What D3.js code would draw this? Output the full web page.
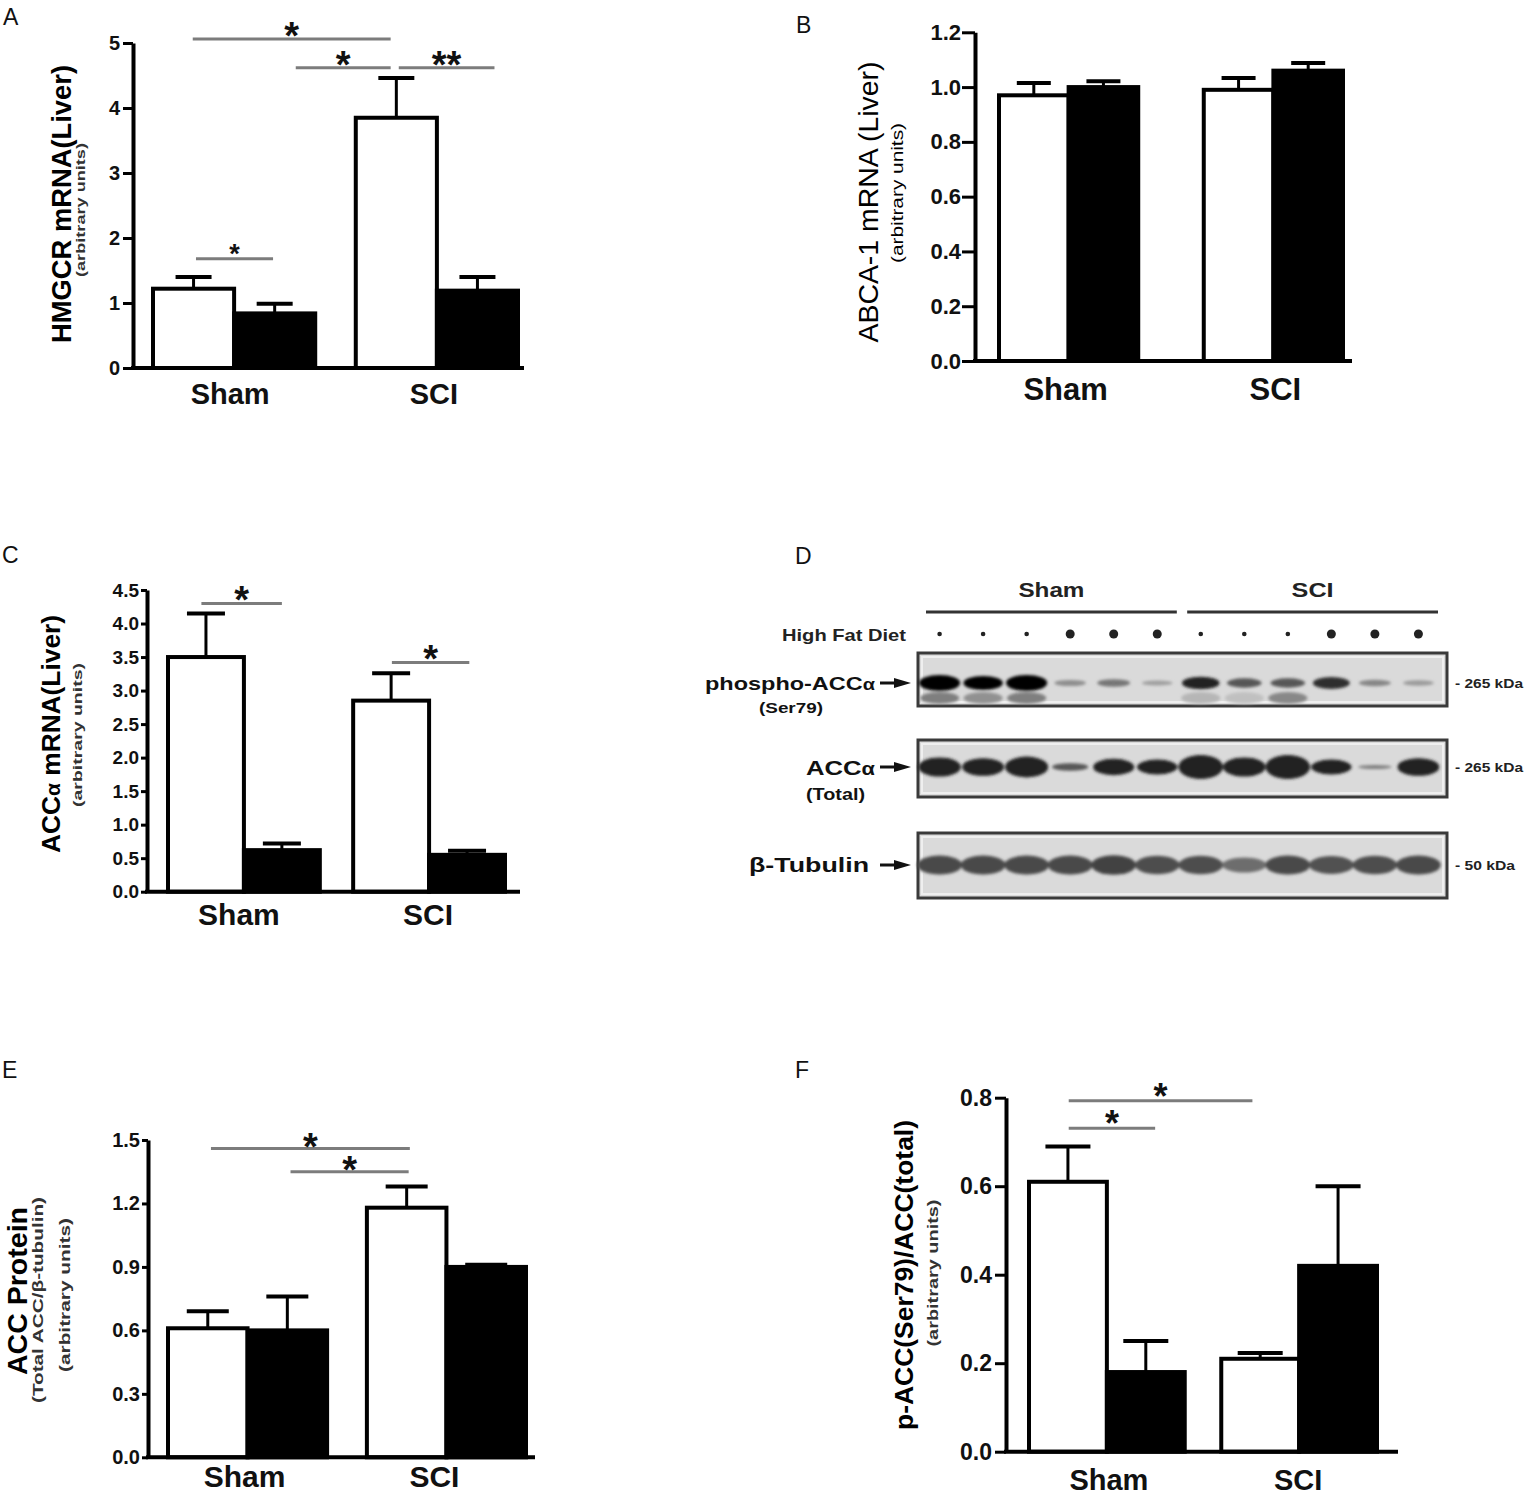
<!DOCTYPE html>
<html>
<head>
<meta charset="utf-8">
<script src="https://cdnjs.cloudflare.com/ajax/libs/d3/7.8.5/d3.min.js"></script>
<style>
  body { margin: 0; background: #fff; }
  svg { display: block; }
  text { font-family: "Liberation Sans", Arial, sans-serif; }
</style>
</head>
<body>
<svg id="fig" width="1536" height="1509"></svg>
<script>
// ---- data (bar order: Sham/chow, Sham/HFD, SCI/chow, SCI/HFD) ----
var groups = ["Sham", "SCI"];
var diets = ["Chow", "HFD"];

// A - HMGCR mRNA
var hmgcrMean = [1.22, 0.84, 3.85, 1.19];
var hmgcrSem = [0.18, 0.15, 0.61, 0.21];
var hmgcrTicks = [0, 1, 2, 3, 4, 5];
// [bar, frac, bar, frac, value, label]
var hmgcrSig = [[0, 0.49, 2, 0.43, 5.06, "*"], [1, 0.76, 2, 0.43, 4.62, "*"],
                [2, 0.53, 3, 0.71, 4.62, "**"], [0, 0.53, 1, 0.48, 1.68, "*"]];

// B - ABCA-1 mRNA
var abcaMean = [0.97, 1.00, 0.99, 1.06];
var abcaSem = [0.045, 0.021, 0.043, 0.028];
var abcaTicks = [0, 0.2, 0.4, 0.6, 0.8, 1.0, 1.2];
var abcaSig = [];

// C - ACCalpha mRNA
var accMrnaMean = [3.50, 0.62, 2.85, 0.55];
var accMrnaSem = [0.65, 0.10, 0.41, 0.06];
var accMrnaTicks = [0, 0.5, 1.0, 1.5, 2.0, 2.5, 3.0, 3.5, 4.0, 4.5];
var accMrnaSig = [[0, 0.44, 1, 0.50, 4.30, "*"], [2, 0.51, 3, 0.53, 3.42, "*"]];

// E - ACC protein
var accProtMean = [0.61, 0.60, 1.18, 0.90];
var accProtSem = [0.08, 0.16, 0.10, 0.01];
var accProtTicks = [0, 0.3, 0.6, 0.9, 1.2, 1.5];
var accProtSig = [[0, 0.54, 2, 0.54, 1.46, "*"], [1, 0.54, 2, 0.525, 1.35, "*"]];

// F - pACC / ACC
var ratioMean = [0.61, 0.18, 0.21, 0.42];
var ratioSem = [0.08, 0.07, 0.013, 0.18];
var ratioTicks = [0, 0.2, 0.4, 0.6, 0.8];
var ratioSig = [[0, 0.51, 2, 0.40, 0.793, "*"], [0, 0.51, 1, 0.62, 0.731, "*"]];

// D - western blot, 12 lanes
var laneHfd = [0, 0, 0, 1, 1, 1, 0, 0, 0, 1, 1, 1];
var pAccBand = [1.0, 0.85, 1.0, 0.18, 0.3, 0.1, 0.7, 0.45, 0.45, 0.65, 0.22, 0.12];
var pAccSmear = [0.45, 0.35, 0.45, 0, 0, 0, 0.15, 0.1, 0.4, 0, 0, 0];
var accBand = [0.85, 0.8, 0.9, 0.4, 0.75, 0.7, 1.0, 0.85, 1.0, 0.7, 0.2, 0.8];
var tubBand = [0.75, 0.75, 0.75, 0.75, 0.78, 0.72, 0.72, 0.55, 0.75, 0.7, 0.72, 0.75];

var svg = d3.select("#fig");

svg.append("defs").append("filter").attr("id", "blur")
    .attr("x", "-20%").attr("y", "-50%").attr("width", "140%").attr("height", "200%")
    .append("feGaussianBlur").attr("stdDeviation", 1.6);

function panelLetter(t, x, y) {
    svg.append("text").attr("x", x).attr("y", y)
        .attr("font-family", "'Open Sans', sans-serif")
        .attr("font-size", 23).attr("fill", "#111").text(t);
}

function vLabel(g, o) {
    var t = g.append("text")
        .attr("transform", "translate(" + o.x + "," + o.y + ") rotate(-90)")
        .attr("text-anchor", "middle")
        .attr("dy", "0.35em")
        .attr("font-size", o.fs)
        .attr("font-weight", o.w || "bold")
        .attr("fill", o.fill || "#000")
        .attr("textLength", o.len)
        .attr("lengthAdjust", "spacingAndGlyphs");
    if (o.parts) {
        o.parts.forEach(function(p) {
            t.append("tspan").attr("font-size", p[1] + "em").text(p[0]);
        });
    } else {
        t.text(o.t);
    }
}

function barPanel(p) {
    var g = svg.append("g");
    var y = d3.scaleLinear().domain([0, p.max]).range([p.y0, p.yTop]);
    var xg = d3.scaleBand().domain(groups).range([p.barL, p.barR]).paddingInner(p.gap);
    var xd = d3.scaleBand().domain(diets).range([0, xg.bandwidth()]);
    var w = xd.bandwidth();

    var bars = p.mean.map(function(v, i) {
        return {g: groups[Math.floor(i / 2)], d: diets[i % 2], v: v, e: p.sem[i]};
    });
    function bx(b) { return xg(b.g) + xd(b.d); }

    // significance brackets
    p.sig.forEach(function(s, i) {
        var x1 = bx(bars[s[0]]) + s[1] * w;
        var x2 = bx(bars[s[2]]) + s[3] * w;
        var yy = y(s[4]);
        g.append("line").attr("x1", x1).attr("x2", x2).attr("y1", yy).attr("y2", yy)
            .attr("stroke", "#7c7c7c").attr("stroke-width", 3);
        var fs = p.starFs[i];
        g.append("text").attr("x", (x1 + x2) / 2).attr("y", yy - p.starGap + 0.555 * fs)
            .attr("text-anchor", "middle").attr("font-weight", "bold")
            .attr("font-size", fs).attr("fill", "#111").text(s[5]);
    });

    // error bars (upper only)
    var eb = g.selectAll(".err").data(bars).enter().append("g").attr("class", "err");
    eb.append("line")
        .attr("x1", function(d) { return bx(d) + w / 2; })
        .attr("x2", function(d) { return bx(d) + w / 2; })
        .attr("y1", function(d) { return y(d.v); })
        .attr("y2", function(d) { return y(d.v + d.e); })
        .attr("stroke", "#000").attr("stroke-width", 3);
    eb.append("line")
        .attr("x1", function(d) { return bx(d) + w / 2 - p.cap / 2; })
        .attr("x2", function(d) { return bx(d) + w / 2 + p.cap / 2; })
        .attr("y1", function(d) { return y(d.v + d.e); })
        .attr("y2", function(d) { return y(d.v + d.e); })
        .attr("stroke", "#000").attr("stroke-width", 4);

    // bars
    g.selectAll(".bar").data(bars).enter().append("rect")
        .attr("class", "bar")
        .attr("x", bx)
        .attr("y", function(d) { return y(d.v); })
        .attr("width", w)
        .attr("height", function(d) { return y(0) - y(d.v); })
        .attr("fill", function(d) { return d.d === "HFD" ? "#000" : "#fff"; })
        .attr("stroke", "#000").attr("stroke-width", 4);

    // axes
    var ya = g.append("g").attr("transform", "translate(" + p.axisX + ",0)")
        .call(d3.axisLeft(y).tickValues(p.ticks).tickFormat(d3.format(p.fmt))
            .tickSize(p.ts).tickPadding(p.tp).tickSizeOuter(0));
    ya.select(".domain").attr("stroke", "#000").attr("stroke-width", 4);
    ya.selectAll(".tick line").attr("stroke", "#000").attr("stroke-width", 3);
    ya.selectAll(".tick text").attr("font-size", p.tfs).attr("font-weight", "bold")
        .attr("fill", "#111").attr("font-family", "'Liberation Sans', Arial, sans-serif");

    g.append("line").attr("x1", p.axisX - 2).attr("x2", p.xEnd)
        .attr("y1", y(0)).attr("y2", y(0))
        .attr("stroke", "#000").attr("stroke-width", 4);

    var xa = g.append("g").attr("transform", "translate(0," + y(0) + ")")
        .call(d3.axisBottom(xg).tickSize(0).tickPadding(p.lBase - p.y0 - 0.71 * p.lfs));
    xa.select(".domain").remove();
    xa.selectAll(".tick text")
        .attr("dx", function(d, i) { return p.lShift[i]; })
        .attr("font-size", p.lfs).attr("font-weight", "bold")
        .attr("fill", "#111").attr("font-family", "'Liberation Sans', Arial, sans-serif");

    vLabel(g, p.label);
    p.subs.forEach(function(s) { vLabel(g, s); });
}

// ---- A ----
panelLetter("A", 3, 25);
barPanel({
    mean: hmgcrMean, sem: hmgcrSem, ticks: hmgcrTicks, sig: hmgcrSig, max: 5, fmt: "d",
    axisX: 133, y0: 368, yTop: 43, barL: 153, barR: 518, gap: 0.2, xEnd: 524,
    ts: 10, tp: 3, tfs: 20, cap: 36, lfs: 29, lBase: 404, lShift: [-4, -3],
    starFs: [38, 38, 38, 27], starGap: 11,
    label: {t: "HMGCR mRNA(Liver)", x: 62, y: 204, fs: 27, len: 278},
    subs: [{t: "(arbitrary units)", x: 80, y: 210, fs: 13, len: 134, fill: "#333"}]
});

// ---- B ----
panelLetter("B", 796, 33);
barPanel({
    mean: abcaMean, sem: abcaSem, ticks: abcaTicks, sig: abcaSig, max: 1.2, fmt: ".1f",
    axisX: 975, y0: 361, yTop: 32.3, barL: 999, barR: 1343, gap: 0.32, xEnd: 1352,
    ts: 13, tp: 1, tfs: 22, cap: 34, lfs: 31, lBase: 400, lShift: [-3, 2],
    starFs: [], starGap: 11,
    label: {t: "ABCA-1 mRNA (Liver)", x: 868, y: 202, fs: 28, w: "normal", len: 281},
    subs: [{t: "(arbitrary units)", x: 897, y: 193, fs: 17, w: "normal", len: 140}]
});

// ---- C ----
panelLetter("C", 2, 563);
barPanel({
    mean: accMrnaMean, sem: accMrnaSem, ticks: accMrnaTicks, sig: accMrnaSig, max: 4.5, fmt: ".1f",
    axisX: 147, y0: 891.7, yTop: 590, barL: 168, barR: 505, gap: 0.18, xEnd: 520,
    ts: 6, tp: 2, tfs: 19, cap: 38, lfs: 30, lBase: 925, lShift: [-5, -1],
    starFs: [38, 38], starGap: 11,
    label: {parts: [["ACC", 1], ["α", 0.8], [" mRNA(Liver)", 1]], x: 51, y: 734, fs: 25, len: 238},
    subs: [{t: "(arbitrary units)", x: 77, y: 735, fs: 13, len: 144, fill: "#333"}]
});

// ---- E ----
panelLetter("E", 2, 1078);
barPanel({
    mean: accProtMean, sem: accProtSem, ticks: accProtTicks, sig: accProtSig, max: 1.5, fmt: ".1f",
    axisX: 148, y0: 1457.3, yTop: 1140, barL: 168, barR: 526, gap: 0.2, xEnd: 535,
    ts: 6, tp: 2, tfs: 20, cap: 42, lfs: 30, lBase: 1487, lShift: [-3, -12],
    starFs: [38, 38], starGap: 10,
    label: {t: "ACC Protein", x: 18, y: 1291, fs: 27, len: 168},
    subs: [{t: "(Total ACC/β-tubulin)", x: 38, y: 1300, fs: 14, len: 206, fill: "#333"},
           {t: "(arbitrary units)", x: 65, y: 1295, fs: 15, len: 154, fill: "#333"}]
});

// ---- F ----
panelLetter("F", 795, 1078);
barPanel({
    mean: ratioMean, sem: ratioSem, ticks: ratioTicks, sig: ratioSig, max: 0.8, fmt: ".1f",
    axisX: 1006, y0: 1451.7, yTop: 1097.7, barL: 1029, barR: 1377, gap: 0.19, xEnd: 1398,
    ts: 11, tp: 3, tfs: 23, cap: 45, lfs: 29, lBase: 1490, lShift: [2, -1],
    starFs: [36, 36], starGap: 12,
    label: {t: "p-ACC(Ser79)/ACC(total)", x: 904, y: 1275, fs: 26, len: 310},
    subs: [{t: "(arbitrary units)", x: 933, y: 1273, fs: 15, len: 147, fill: "#333"}]
});

// ---- D (blot) ----
panelLetter("D", 795, 564);
(function() {
    var g = svg.append("g");
    var lane = d3.scaleBand().domain(d3.range(laneHfd.length)).range([920, 1438]).paddingInner(0.1);
    var bw = lane.bandwidth();
    var shade = d3.scaleLinear().domain([0, 1]).range(["#d2d2d2", "#050505"]);
    function cx(i) { return lane(i) + bw / 2; }

    // group headers
    groups.forEach(function(name, k) {
        var a = lane(k * 6) + 6, b = lane(k * 6 + 5) + bw;
        g.append("line").attr("x1", a).attr("x2", b).attr("y1", 612).attr("y2", 612)
            .attr("stroke", "#333").attr("stroke-width", 3);
        g.append("text").attr("x", (a + b) / 2).attr("y", 597).attr("text-anchor", "middle")
            .attr("font-size", 21).attr("font-weight", "bold").attr("fill", "#222")
            .attr("textLength", name === "Sham" ? 66 : 42).attr("lengthAdjust", "spacingAndGlyphs")
            .text(name);
    });

    g.append("text").attr("x", 906).attr("y", 641).attr("text-anchor", "end")
        .attr("font-size", 17).attr("font-weight", "bold").attr("fill", "#222")
        .attr("textLength", 124).attr("lengthAdjust", "spacingAndGlyphs").text("High Fat Diet");

    g.selectAll(".hfd").data(laneHfd).enter().append("circle")
        .attr("cx", function(d, i) { return cx(i); }).attr("cy", 634)
        .attr("r", function(d) { return d ? 4.5 : 2.3; }).attr("fill", "#222");

    var rows = [
        {y0: 653, y1: 706, cy: 683, kda: "- 265 kDa", kl: 68},
        {y0: 740, y1: 797, cy: 767, kda: "- 265 kDa", kl: 68},
        {y0: 833, y1: 898, cy: 865, kda: "- 50 kDa", kl: 60}
    ];
    rows.forEach(function(r) {
        g.append("rect").attr("x", 918).attr("y", r.y0).attr("width", 529).attr("height", r.y1 - r.y0)
            .attr("fill", "#dadada").attr("stroke", "#3a3a3a").attr("stroke-width", 3);
        g.append("rect").attr("x", 922).attr("y", r.y0 + 4).attr("width", 521).attr("height", r.y1 - r.y0 - 8)
            .attr("fill", "none").attr("stroke", "#efefef").attr("stroke-width", 2);
        g.append("path")
            .attr("d", "M880," + r.cy + "H897")
            .attr("stroke", "#111").attr("stroke-width", 3);
        g.append("path")
            .attr("d", "M894," + (r.cy - 5) + "L911," + r.cy + "L894," + (r.cy + 5) + "Z")
            .attr("fill", "#111");
        g.append("text").attr("x", 1455).attr("y", r.cy + 5)
            .attr("font-size", 13).attr("font-weight", "bold").attr("fill", "#222")
            .attr("textLength", r.kl).attr("lengthAdjust", "spacingAndGlyphs").text(r.kda);
    });

    var bands = g.append("g").attr("filter", "url(#blur)");
    // phospho-ACC, lower smear first
    bands.selectAll(".smear").data(pAccSmear).enter().append("ellipse")
        .attr("cx", function(d, i) { return cx(i); }).attr("cy", 698)
        .attr("rx", bw / 2).attr("ry", 6)
        .attr("fill", function(d) { return shade(d); })
        .attr("opacity", function(d) { return d > 0 ? 0.9 : 0; });
    bands.selectAll(".pacc").data(pAccBand).enter().append("ellipse")
        .attr("cx", function(d, i) { return cx(i); }).attr("cy", 683)
        .attr("rx", function(d) { return bw / 2 * (0.75 + 0.3 * d); })
        .attr("ry", function(d) { return 2 + 6 * d; })
        .attr("fill", function(d) { return shade(Math.min(1, d + 0.15)); });
    // total ACC
    bands.selectAll(".acc").data(accBand).enter().append("ellipse")
        .attr("cx", function(d, i) { return cx(i); }).attr("cy", 767)
        .attr("rx", function(d) { return bw / 2 * (0.78 + 0.36 * d); })
        .attr("ry", function(d) { return 1 + 11 * Math.pow(d, 1.5); })
        .attr("fill", function(d) { return shade(Math.min(0.86, d + 0.2)); });
    // tubulin
    bands.selectAll(".tub").data(tubBand).enter().append("ellipse")
        .attr("cx", function(d, i) { return cx(i); }).attr("cy", 865)
        .attr("rx", bw / 2 * 1.14)
        .attr("ry", function(d) { return 2 + 10 * d; })
        .attr("fill", function(d) { return shade(d * 0.9); });

    // row labels
    var t1 = g.append("text").attr("x", 875).attr("y", 690).attr("text-anchor", "end")
        .attr("font-size", 19).attr("font-weight", "bold").attr("fill", "#111")
        .attr("textLength", 170).attr("lengthAdjust", "spacingAndGlyphs");
    t1.append("tspan").text("phospho-ACC");
    t1.append("tspan").attr("font-size", "0.85em").text("α");
    g.append("text").attr("x", 791).attr("y", 713).attr("text-anchor", "middle")
        .attr("font-size", 15).attr("font-weight", "bold").attr("fill", "#111")
        .attr("textLength", 64).attr("lengthAdjust", "spacingAndGlyphs").text("(Ser79)");
    var t2 = g.append("text").attr("x", 875).attr("y", 775).attr("text-anchor", "end")
        .attr("font-size", 21).attr("font-weight", "bold").attr("fill", "#111")
        .attr("textLength", 69).attr("lengthAdjust", "spacingAndGlyphs");
    t2.append("tspan").text("ACC");
    t2.append("tspan").attr("font-size", "0.85em").text("α");
    g.append("text").attr("x", 806).attr("y", 800)
        .attr("font-size", 16).attr("font-weight", "bold").attr("fill", "#111")
        .attr("textLength", 59).attr("lengthAdjust", "spacingAndGlyphs").text("(Total)");
    g.append("text").attr("x", 869).attr("y", 872).attr("text-anchor", "end")
        .attr("font-size", 21).attr("font-weight", "bold").attr("fill", "#111")
        .attr("textLength", 120).attr("lengthAdjust", "spacingAndGlyphs").text("β-Tubulin");
})();
</script>
</body>
</html>
